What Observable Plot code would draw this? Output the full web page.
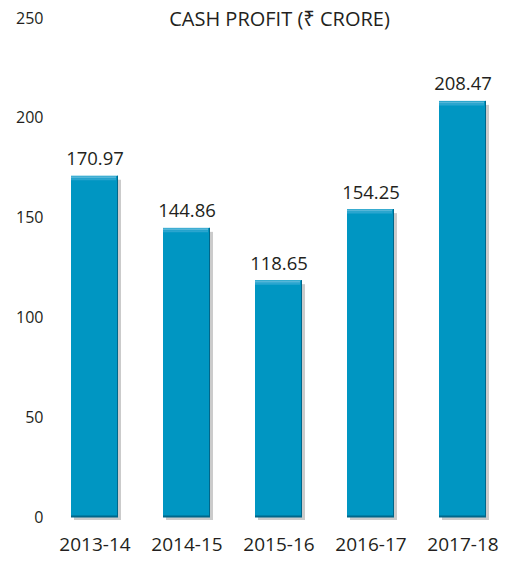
<!DOCTYPE html>
<html>
<head>
<meta charset="utf-8">
<script src="https://cdn.jsdelivr.net/npm/d3@7"></script>
<script src="https://cdn.jsdelivr.net/npm/@observablehq/plot@0.6"></script>
<style>
  html, body { margin: 0; padding: 0; background: #fff; }
  #chart svg { display: block; }
</style>
</head>
<body>
<div id="chart"></div>
<script>
const years = ["2013-14", "2014-15", "2015-16", "2016-17", "2017-18"];
const cashProfit = [170.97, 144.86, 118.65, 154.25, 208.47];
const yTicks = [0, 50, 100, 150, 200, 250];
const title = "CASH PROFIT (₹ CRORE)";

const data = years.map((year, i) => ({year, value: cashProfit[i], label: cashProfit[i].toFixed(2)}));

const font = "'Open Sans', 'Noto Sans', sans-serif";
const ink = "#231f20";

const chart = Plot.plot({
  width: 521,
  height: 563,
  marginTop: 18,
  marginBottom: 46,
  marginLeft: 47,
  marginRight: 10,
  style: {fontFamily: font, color: ink, background: "#fff"},
  x: {domain: years, paddingInner: 0.484, paddingOuter: 0.237},
  y: {domain: [0, 250], ticks: yTicks},
  marks: [
    // drop shadow
    Plot.barY(data, {x: "year", y: "value", fill: "#8c8c8c", fillOpacity: 0.45, dx: 3, dy: 3, insetTop: 1}),
    // main bar
    Plot.barY(data, {x: "year", y: "value", fill: "#0096c2"}),
    // darker right edge
    Plot.barY(data, {x: "year", y: "value", fill: "#00678a", insetLeft: 46}),
    // darker bottom edge
    Plot.tickY(data, {x: "year", y: 0, stroke: "#00678a", strokeWidth: 2, dy: -1}),
    // lighter top highlight
    Plot.tickY(data, {x: "year", y: "value", stroke: "#55b6d8", strokeWidth: 2, dy: 1, insetRight: 2}),
    Plot.tickY(data, {x: "year", y: "value", stroke: "#2aa5cf", strokeWidth: 2, dy: 3, insetRight: 2}),
    Plot.axisY({ticks: yTicks, tickSize: 0, tickPadding: 4, label: null, fontSize: 16, fill: ink}),
    Plot.axisX({tickSize: 0, tickPadding: 20, label: null, fontSize: 19, fill: ink}),
    Plot.text(data, {x: "year", y: "value", text: "label", lineAnchor: "bottom", dy: -11, fontSize: 18.5, fill: ink}),
    Plot.text([title], {frameAnchor: "top", text: d => d, fontSize: 20, fill: ink, dy: -7})
  ]
});

document.getElementById("chart").appendChild(chart);
</script>
</body>
</html>
